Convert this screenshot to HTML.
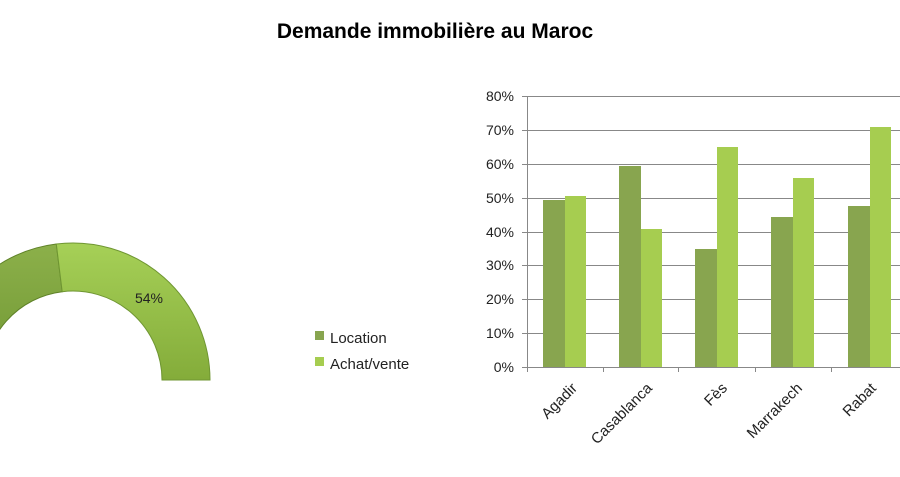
<!DOCTYPE html>
<html><head><style>body{margin:0;background:#fff}</style></head><body>
<svg width="900" height="472" xmlns="http://www.w3.org/2000/svg" font-family="Liberation Sans, sans-serif">
<defs>
<linearGradient id="lg" x1="0" y1="0" x2="0" y2="1"><stop offset="0" stop-color="#a6d057"/><stop offset="1" stop-color="#84ac3a"/></linearGradient>
<linearGradient id="dg" x1="0" y1="0" x2="0" y2="1"><stop offset="0" stop-color="#8cb04a"/><stop offset="1" stop-color="#6f9632"/></linearGradient>
</defs>
<text x="435" y="38" text-anchor="middle" font-size="21" font-weight="bold" fill="#000">Demande immobilière au Maroc</text>
<path d="M-64,380 A137,137 0 0 1 56.3,244 L62.2,291.7 A89,89 0 0 0 -16,380 Z" fill="url(#dg)" stroke="#5f8228" stroke-width="1"/>
<path d="M56.3,244 A137,137 0 0 1 210,380 L162,380 A89,89 0 0 0 62.2,291.7 Z" fill="url(#lg)" stroke="#6f9632" stroke-width="1"/>
<text x="149" y="303" font-size="14" fill="#222" text-anchor="middle">54%</text>
<rect x="315" y="331" width="9" height="9" fill="#88a54f"/>
<text x="330" y="343" font-size="15" fill="#222">Location</text>
<rect x="315" y="357" width="9" height="9" fill="#a6cd50"/>
<text x="330" y="369" font-size="15" fill="#222">Achat/vente</text>
<g stroke="#888" stroke-width="1">
<line x1="522" y1="96.5" x2="900" y2="96.5"/><line x1="522" y1="130.5" x2="900" y2="130.5"/>
<line x1="522" y1="164.5" x2="900" y2="164.5"/><line x1="522" y1="198.5" x2="900" y2="198.5"/>
<line x1="522" y1="232.5" x2="900" y2="232.5"/><line x1="522" y1="265.5" x2="900" y2="265.5"/>
<line x1="522" y1="299.5" x2="900" y2="299.5"/><line x1="522" y1="333.5" x2="900" y2="333.5"/>
<line x1="522" y1="367.5" x2="900" y2="367.5"/>
<line x1="527.5" y1="96" x2="527.5" y2="372"/>
<line x1="603.5" y1="367" x2="603.5" y2="372"/><line x1="678.5" y1="367" x2="678.5" y2="372"/>
<line x1="755.5" y1="367" x2="755.5" y2="372"/><line x1="831.5" y1="367" x2="831.5" y2="372"/>
</g>
<g font-size="14" fill="#222" text-anchor="end">
<text x="514" y="101">80%</text><text x="514" y="135">70%</text><text x="514" y="169">60%</text>
<text x="514" y="203">50%</text><text x="514" y="237">40%</text><text x="514" y="270">30%</text>
<text x="514" y="304">20%</text><text x="514" y="338">10%</text><text x="514" y="372">0%</text>
</g>
<g fill="#88a54f">
<rect x="543" y="200" width="22" height="167"/>
<rect x="619" y="166" width="22" height="201"/>
<rect x="695" y="249" width="22" height="118"/>
<rect x="771" y="217" width="22" height="150"/>
<rect x="848" y="206" width="22" height="161"/>
</g>
<g fill="#a6cd50">
<rect x="565" y="196" width="21" height="171"/>
<rect x="641" y="229" width="21" height="138"/>
<rect x="717" y="147" width="21" height="220"/>
<rect x="793" y="178" width="21" height="189"/>
<rect x="870" y="127" width="21" height="240"/>
</g>
<g font-size="15" fill="#222" text-anchor="end">
<text transform="translate(578,389) rotate(-45)">Agadir</text>
<text transform="translate(653,389) rotate(-45)">Casablanca</text>
<text transform="translate(728,389) rotate(-45)">Fès</text>
<text transform="translate(803,389) rotate(-45)">Marrakech</text>
<text transform="translate(877,389) rotate(-45)">Rabat</text>
</g>
</svg>
</body></html>
